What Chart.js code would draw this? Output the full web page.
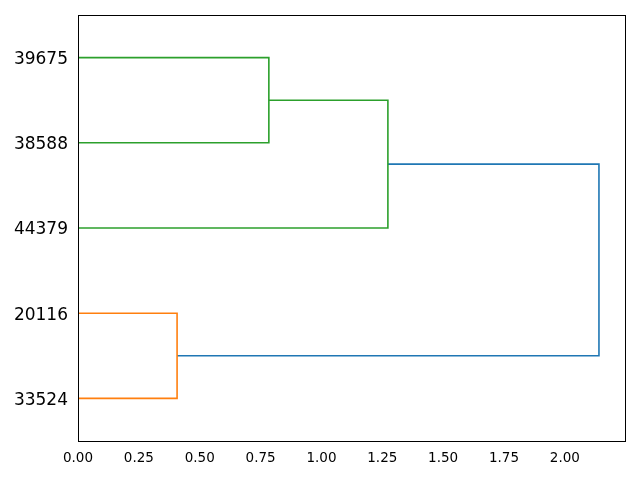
<!DOCTYPE html>
<html>
<head>
<meta charset="utf-8">
<script src="https://cdn.jsdelivr.net/npm/chart.js@4/dist/chart.umd.min.js"></script>
<style>
  html, body { margin: 0; padding: 0; background: #fff; }
  #wrap { width: 640px; height: 480px; }
</style>
</head>
<body>
<div id="wrap"><canvas id="dendro" width="640" height="480"></canvas></div>
<script>
// leaves, bottom to top (leaf positions 5, 15, 25, ...)
const leafLabels = ['33524', '20116', '44379', '38588', '39675'];
const leafPositions = [5, 15, 25, 35, 45];

// one link per merge, scipy style: position along leaves, and merge distance
const linkPos = [
  [5, 5, 15, 15],
  [35, 35, 45, 45],
  [25, 25, 40, 40],
  [10, 10, 32.5, 32.5]
];
const linkDist = [
  [0, 0.407, 0.407, 0],
  [0, 0.784, 0.784, 0],
  [0, 1.273, 1.273, 0.784],
  [0.407, 2.140, 2.140, 1.273]
];
const linkColors = ['#ff7f0e', '#2ca02c', '#2ca02c', '#1f77b4'];

const xTicks = [0, 0.25, 0.5, 0.75, 1.0, 1.25, 1.5, 1.75, 2.0];

const datasets = linkPos.map((pos, i) => ({
  data: pos.map((p, j) => ({ x: linkDist[i][j], y: p })),
  showLine: true,
  borderColor: linkColors[i],
  borderWidth: 1.6,
  pointRadius: 0,
  fill: false,
  tension: 0
}));

// axes box around the plot
const frame = {
  id: 'frame',
  afterDraw(chart) {
    const a = chart.chartArea;
    const ctx = chart.ctx;
    ctx.save();
    ctx.strokeStyle = '#000';
    ctx.lineWidth = 1;
    ctx.strokeRect(Math.round(a.left) + 0.5, Math.round(a.top) + 0.5,
      Math.round(a.right - a.left), Math.round(a.bottom - a.top));
    ctx.restore();
  }
};

new Chart(document.getElementById('dendro').getContext('2d'), {
  type: 'scatter',
  data: { datasets },
  plugins: [frame],
  options: {
    responsive: false,
    animation: false,
    layout: { padding: { top: 15, right: 15, left: 0, bottom: 0 } },
    plugins: { legend: { display: false }, tooltip: { enabled: false } },
    scales: {
      x: {
        type: 'linear',
        min: 0,
        max: 2.247,
        afterBuildTicks: s => { s.ticks = xTicks.map(v => ({ value: v })); },
        afterFit: s => { s.height = 39; s.paddingLeft = 0; s.paddingRight = 0; },
        grid: { display: false, drawTicks: true, tickLength: 4, tickColor: '#000' },
        border: { display: false },
        ticks: {
          color: '#000',
          font: { family: 'DejaVu Sans', size: 13.5 },
          padding: 5,
          maxRotation: 0,
          autoSkip: false,
          callback: v => v.toFixed(2)
        }
      },
      y: {
        type: 'linear',
        min: 0,
        max: 50,
        afterBuildTicks: s => { s.ticks = leafPositions.map(v => ({ value: v })); },
        afterFit: s => { s.width = 78; s.paddingTop = 0; s.paddingBottom = 0; },
        grid: { display: false, drawTicks: false },
        border: { display: false },
        ticks: {
          color: '#000',
          font: { family: 'DejaVu Sans', size: 17 },
          padding: 10,
          labelOffset: 2,
          autoSkip: false,
          callback: v => leafLabels[leafPositions.indexOf(v)]
        }
      }
    }
  }
});
</script>
</body>
</html>
